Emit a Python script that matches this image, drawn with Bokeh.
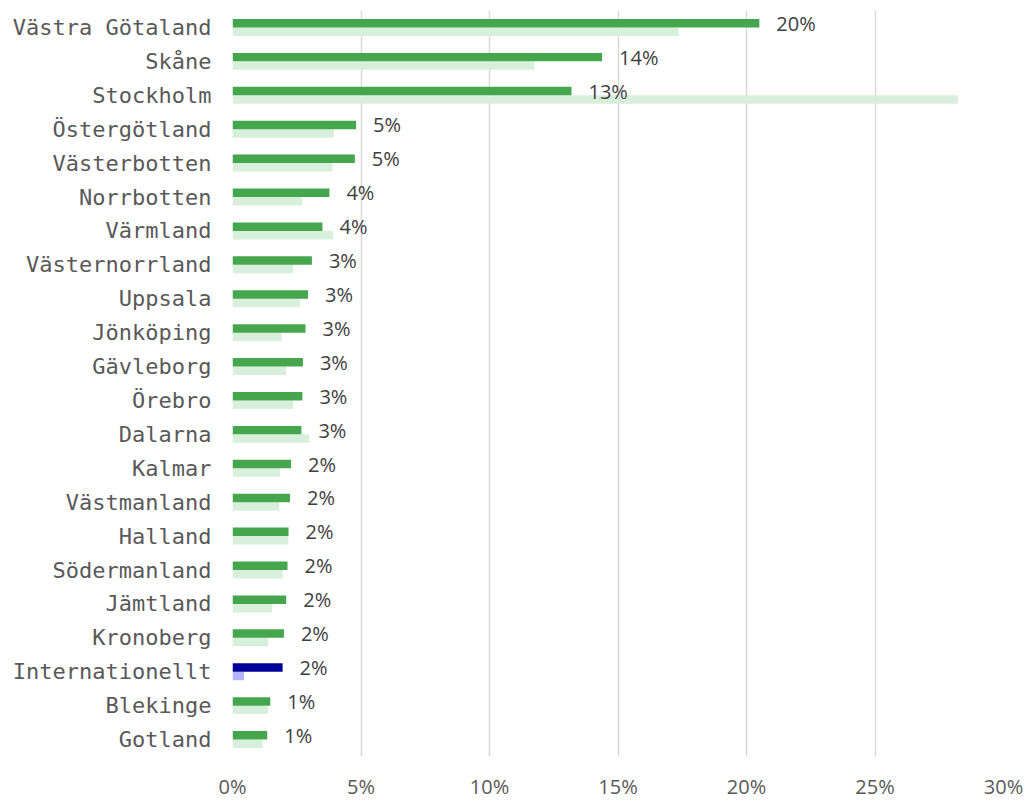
from bokeh.plotting import figure
from bokeh.models import ColumnDataSource, FactorRange, Range1d, FixedTicker, PrintfTickFormatter
from bokeh.transform import dodge
from bokeh.core.properties import value
from bokeh.embed import file_html
from bokeh.resources import INLINE

regions = ["Västra Götaland", "Skåne", "Stockholm", "Östergötland", "Västerbotten",
           "Norrbotten", "Värmland", "Västernorrland", "Uppsala", "Jönköping", "Gävleborg",
           "Örebro", "Dalarna", "Kalmar", "Västmanland", "Halland", "Södermanland",
           "Jämtland", "Kronoberg", "Internationellt", "Blekinge", "Gotland"]
main_share = [20.5, 14.38, 13.19, 4.81, 4.76, 3.77, 3.5, 3.09, 2.94, 2.84, 2.74,
              2.72, 2.68, 2.28, 2.24, 2.18, 2.14, 2.09, 2.0, 1.95, 1.47, 1.35]
ref_share = [17.36, 11.75, 28.23, 3.94, 3.89, 2.71, 3.92, 2.36, 2.62, 1.91, 2.08,
             2.36, 2.98, 1.85, 1.82, 2.17, 1.95, 1.54, 1.39, 0.45, 1.38, 1.17]
labels = ["20%", "14%", "13%", "5%", "5%", "4%", "4%", "3%", "3%", "3%", "3%",
          "3%", "3%", "2%", "2%", "2%", "2%", "2%", "2%", "2%", "1%", "1%"]
x_ticks = [0, 5, 10, 15, 20, 25, 30]

main_colors = ["#000099" if r == "Internationellt" else "#45A64D" for r in regions]
ref_colors = ["#B3B3FF" if r == "Internationellt" else "#D8EFDB" for r in regions]

src = ColumnDataSource(dict(cat=regions, main=main_share, ref=ref_share, lab=labels,
                            mc=main_colors, rc=ref_colors))

p = figure(width=1026, height=802, output_backend="svg", toolbar_location=None,
           y_range=FactorRange(factors=list(reversed(regions)), range_padding=0),
           x_range=Range1d(0, 30),
           min_border_left=232, min_border_right=23, min_border_top=10, min_border_bottom=44)
p.y_range.range_padding = 0
p.outline_line_color = None
p.background_fill_color = "white"
p.border_fill_color = "white"

p.hbar(y=dodge("cat", -0.125, range=p.y_range), right="ref", left=0, height=0.25,
       fill_color="rc", line_color=None, source=src)
p.hbar(y=dodge("cat", 0.125, range=p.y_range), right="main", left=0, height=0.25,
       fill_color="mc", line_color=None, source=src)
p.text(x="main", y=dodge("cat", 0.125, range=p.y_range), text="lab", source=src,
       x_offset=17, text_baseline="middle", text_align="left",
       text_font=value("Open Sans"), text_font_size="20px", text_color="#404040")

p.xaxis.ticker = FixedTicker(ticks=x_ticks)
p.xaxis.formatter = PrintfTickFormatter(format="%d%%")
p.xaxis.axis_line_color = None
p.xaxis.major_tick_line_color = None
p.xaxis.minor_tick_line_color = None
p.xaxis.major_label_text_font = "Open Sans"
p.xaxis.major_label_text_font_size = "20px"
p.xaxis.major_label_text_color = "#595959"
p.xaxis.major_label_standoff = 10

p.yaxis.axis_line_color = None
p.yaxis.major_tick_line_color = None
p.yaxis.minor_tick_line_color = None
p.yaxis.major_label_text_font = "DejaVu Sans Mono"
p.yaxis.major_label_text_font_size = "22px"
p.yaxis.major_label_text_color = "#595959"
p.yaxis.major_label_standoff = 15

p.xgrid.grid_line_color = "#D9D9D9"
p.xgrid.grid_line_width = 1.5
p.ygrid.grid_line_color = None

open("out.html", "w").write(file_html(p, INLINE))
